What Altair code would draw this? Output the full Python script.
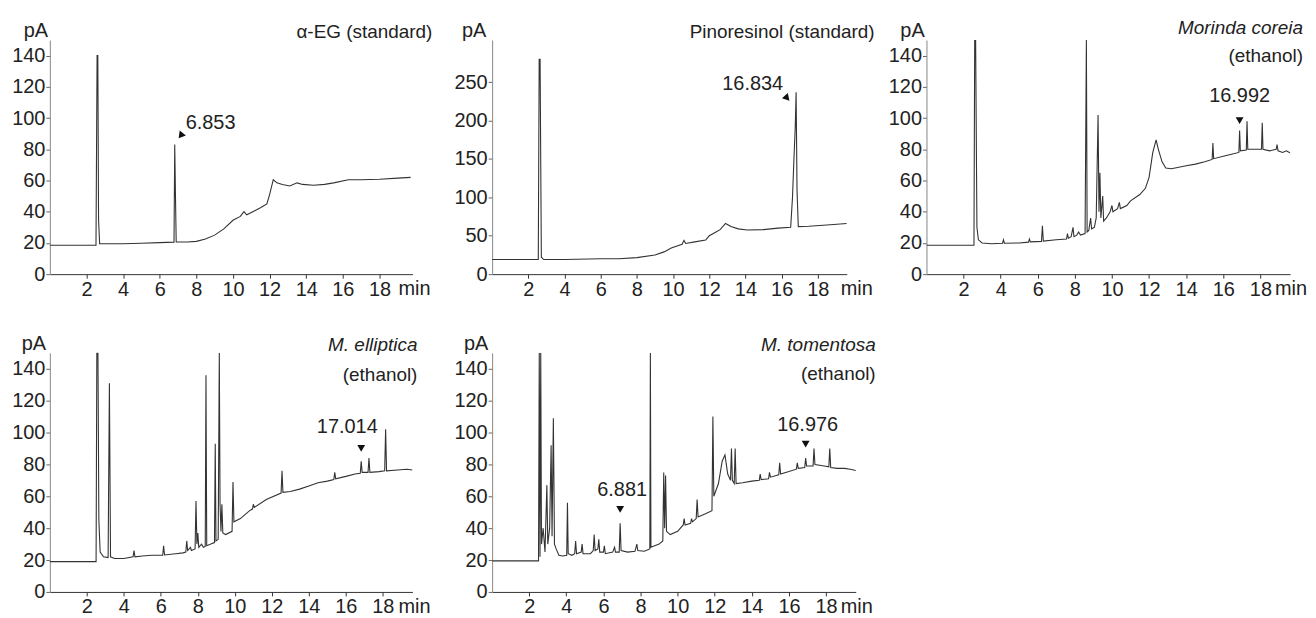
import altair as alt
import pandas as pd

FONT = "Liberation Sans"

# ---------------- data ----------------
aeg_title = ["α-EG (standard)"]
aeg_time = [0, 2.52, 2.58, 2.62, 2.66, 2.72, 3.0, 4.0, 5.0, 6.0, 6.78, 6.82, 6.86, 6.9, 7.5, 8.0,
            8.5, 9.0, 9.5, 10.0, 10.4, 10.6, 10.75, 11.0, 11.5, 11.85, 12.0, 12.2, 12.4, 12.7, 13.1,
            13.5, 13.8, 14.4, 15.0, 15.5, 16.3, 17.0, 18.0, 19.0, 19.7]
aeg_signal = [18.5, 18.5, 140, 140, 35, 19.5, 19.5, 19.5, 19.8, 20.2, 20.5, 83, 50, 20.6, 20.6, 21,
              22.5, 25, 29, 34.5, 37, 40, 38, 39.5, 42.5, 45, 51, 60.5, 58.5, 57.5, 56.5,
              58.5, 57.5, 57, 57.5, 58.5, 60.5, 60.5, 60.8, 61.5, 62]
aeg_peak_time = [6.82]
aeg_peak_signal = [83]
aeg_peak_label = ["6.853"]

pino_title = ["Pinoresinol (standard)"]
pino_time = [0, 2.55, 2.6, 2.65, 2.72, 2.85, 4.0, 6.0, 7.0, 8.0, 9.0, 9.5, 9.9, 10.5, 10.6, 10.7,
             11.2, 11.8, 12.0, 12.3, 12.6, 12.9, 13.2, 13.6, 14.1, 15.0, 15.8, 16.5, 16.6, 16.68,
             16.75, 16.8, 16.85, 16.92, 17.5, 18.5, 19.6]
pino_signal = [19, 19, 280, 280, 22, 19, 19, 20, 20, 21.5, 25, 29, 34, 39, 44, 40,
               42, 44.5, 50, 54, 58, 66, 62, 59, 57.5, 58, 60, 61, 100, 150,
               190, 237, 110, 62, 62.5, 64, 66]
pino_peak_time = [16.8]
pino_peak_signal = [237]
pino_peak_label = ["16.834"]

cor_title = ["Morinda coreia", "(ethanol)"]
cor_time = [0, 2.56, 2.6, 2.65, 2.72, 2.8, 3.0, 3.5, 4.1, 4.15, 4.2, 5.0, 5.5, 5.55, 5.6, 6.2,
            6.25, 6.3, 7.0, 7.55, 7.6, 7.65, 7.8, 7.9, 7.95, 8.1, 8.2, 8.3, 8.55, 8.62, 8.66,
            8.75, 8.85, 8.9, 9.05, 9.15, 9.25, 9.3, 9.35, 9.4, 9.5, 9.55, 9.7, 9.9, 10.0, 10.05,
            10.3, 10.4, 10.45, 10.8, 11.0, 11.5, 11.8, 12.0, 12.2, 12.38, 12.5, 12.7, 12.9, 13.2,
            13.6, 14.0, 14.5, 15.0, 15.4, 15.44, 15.48, 16.0, 16.5, 16.84, 16.88, 16.92, 17.24,
            17.28, 17.32, 17.7, 18.06, 18.1, 18.14, 18.5, 18.85, 18.9, 18.95, 19.2, 19.4, 19.7]
cor_signal = [18.5, 18.5, 150, 150, 30, 22, 20, 19.5, 19.8, 22, 19.8, 20, 20.5, 22.5, 20.7, 21,
              31, 21.2, 22, 22.5, 26, 23, 24, 30, 24, 25, 27, 25, 26, 150, 27,
              28, 36, 29, 30, 36, 102, 40, 65, 36, 50, 34, 36, 40, 44, 40,
              42, 46, 42, 44, 47, 51, 55, 62, 78, 86, 80, 72, 68, 67.5,
              68.5, 69.5, 70.5, 72, 73.5, 84, 74, 75.5, 77, 78, 92, 79, 79.5,
              98, 80, 80, 80, 97, 80, 79, 80, 83, 79, 78, 79, 77]
cor_peak_time = [16.88]
cor_peak_signal = [92]
cor_peak_label = ["16.992"]

ell_title = ["M. elliptica", "(ethanol)"]
ell_time = [0, 2.5, 2.54, 2.6, 2.65, 2.72, 2.9, 3.15, 3.22, 3.28, 3.5, 4.0, 4.5, 4.55, 4.6, 5.0,
            5.5, 6.1, 6.15, 6.2, 6.8, 7.2, 7.35, 7.4, 7.45, 7.6, 7.65, 7.85, 7.9, 7.95, 8.0,
            8.05, 8.2, 8.3, 8.4, 8.44, 8.48, 8.7, 8.9, 8.94, 8.98, 9.1, 9.16, 9.2, 9.25, 9.3,
            9.35, 9.5, 9.85, 9.9, 9.95, 10.3, 10.8, 10.95, 11.0, 11.05, 11.7, 12.5, 12.55, 12.6,
            13.0, 13.5, 14.0, 14.5, 15.0, 15.35, 15.4, 15.45, 16.0, 16.5, 16.78, 16.83, 16.88,
            17.2, 17.25, 17.3, 17.8, 18.1, 18.15, 18.2, 18.8, 19.3, 19.6]
ell_signal = [19, 19, 150, 150, 45, 25, 22, 21.5, 131, 22, 21, 21, 22, 26, 22, 22.5,
              23, 23, 29, 23.2, 24, 24.5, 25, 32, 26, 28, 26, 27, 57, 30, 37,
              28, 30, 28, 28.5, 136, 29, 30, 31, 93, 32, 33, 150, 55, 38, 55,
              37, 36, 38, 69, 44, 46, 51, 52, 55, 53, 58, 62, 76, 62.5,
              63, 64.5, 66.5, 68.5, 69.5, 70.5, 75, 71, 72.5, 74, 74.5, 82, 75,
              75, 84, 75, 75.5, 76, 102, 76, 76.5, 77, 76.5]
ell_peak_time = [16.83]
ell_peak_signal = [82]
ell_peak_label = ["17.014"]

tom_title = ["M. tomentosa", "(ethanol)"]
tom_time = [0, 2.5, 2.54, 2.58, 2.62, 2.66, 2.75, 2.85, 2.95, 3.0, 3.1, 3.18, 3.23, 3.3, 3.36,
            3.45, 3.6, 3.8, 4.02, 4.06, 4.1, 4.3, 4.45, 4.5, 4.55, 4.8, 4.85, 4.9, 5.3, 5.45,
            5.5, 5.55, 5.7, 5.75, 5.8, 6.0, 6.05, 6.1, 6.5, 6.6, 6.65, 6.85, 6.9, 6.95, 7.3,
            7.7, 7.8, 7.85, 8.2, 8.5, 8.53, 8.56, 9.0, 9.2, 9.25, 9.3, 9.35, 9.4, 9.6, 10.0,
            10.3, 10.35, 10.4, 10.7, 10.75, 10.8, 11.0, 11.05, 11.1, 11.5, 11.85, 11.9, 11.95,
            12.2, 12.4, 12.55, 12.7, 12.85, 12.9, 12.95, 13.05, 13.1, 13.15, 13.5, 14.0, 14.4,
            14.45, 14.5, 14.9, 14.95, 15.0, 15.45, 15.5, 15.55, 16.0, 16.4, 16.45, 16.5, 16.85,
            16.9, 16.95, 17.3, 17.35, 17.4, 17.9, 18.15, 18.2, 18.25, 18.6, 19.0, 19.3, 19.7]
tom_signal = [19.5, 19.5, 150, 22, 150, 30, 40, 25, 67, 30, 40, 92, 35, 109, 30,
              27, 23, 22.5, 23, 56, 24, 23, 24, 32, 24, 25, 30, 24, 24, 26,
              36, 26, 27, 33, 25, 25, 29, 24, 25, 28, 25, 25, 43, 26, 25,
              25.5, 30, 26, 25.5, 27, 150, 28, 30, 32, 75, 40, 73, 38, 36, 38,
              42, 46, 42, 43, 46, 44, 46, 58, 47, 49, 51, 110, 60,
              68, 82, 86, 74, 70, 90, 70, 68, 90, 68, 68.5, 69.5, 70,
              74, 70.5, 71, 75, 72, 73.5, 81, 74, 75.5, 77, 81, 77.5, 78,
              84, 79, 79, 90, 80, 79, 78.5, 90, 78, 77.5, 77.5, 77, 76]
tom_peak_time = [6.9, 16.9]
tom_peak_signal = [43, 84]
tom_peak_label = ["6.881", "16.976"]

x_ticks = [2, 4, 6, 8, 10, 12, 14, 16, 18]
y_ticks_small = [0, 20, 40, 60, 80, 100, 120, 140]
y_ticks_large = [0, 50, 100, 150, 200, 250]
x_unit = "min"
y_unit = "pA"


# ---------------- chart building ----------------
def panel(times, signal, pk_t, pk_v, pk_lab, titles, italic, W, H, xmax, ymax, yvals,
          title_x, title_ys, pa_x, tri_off, txt_off, txt_align, tri_shape, tri_angle):
    df = pd.DataFrame({"time": times, "signal": signal})
    pk = pd.DataFrame({"time": pk_t, "signal": pk_v, "label": pk_lab})
    X = alt.X("time:Q",
              scale=alt.Scale(domain=[0, xmax], nice=False, zero=False),
              axis=alt.Axis(values=x_ticks, title=None, grid=False, tickSize=4,
                            labelPadding=1, domainColor="#333", tickColor="#333",
                            labelFont=FONT, labelFontSize=20, labelColor="#222",
                            labelFlush=False, labelOverlap=False))
    Y = alt.Y("signal:Q",
              scale=alt.Scale(domain=[0, ymax], nice=False, zero=True),
              axis=alt.Axis(values=yvals, title=None, grid=False, tickSize=4,
                            labelPadding=1, domainColor="#888", tickColor="#666",
                            labelFont=FONT, labelFontSize=20, labelColor="#222",
                            labelFlush=False, labelOverlap=False))
    line = alt.Chart(df).mark_line(color="#333", strokeWidth=1.1, clip=True).encode(x=X, y=Y)
    tri = alt.Chart(pk).mark_point(shape=tri_shape, filled=True, color="#111", opacity=1,
                                   size=62, angle=tri_angle, xOffset=tri_off[0],
                                   yOffset=tri_off[1]).encode(x=X, y=Y)
    txt = alt.Chart(pk).mark_text(font=FONT, fontSize=20, color="#222", align=txt_align,
                                  baseline="middle", dx=txt_off[0],
                                  dy=txt_off[1]).encode(x=X, y=Y, text="label:N")
    layers = [line, tri, txt]
    for lab, ty in zip(titles, title_ys):
        layers.append(
            alt.Chart(pd.DataFrame({"label": [lab]})).mark_text(
                font=FONT, fontSize=19, color="#222", align="right", baseline="middle",
                fontStyle="italic" if (italic and lab != "(ethanol)") else "normal"
            ).encode(x=alt.value(title_x), y=alt.value(ty), text="label:N"))
    layers.append(
        alt.Chart(pd.DataFrame({"label": [y_unit]})).mark_text(
            font=FONT, fontSize=20, color="#222", align="center", baseline="middle"
        ).encode(x=alt.value(pa_x), y=alt.value(-9), text="label:N"))
    layers.append(
        alt.Chart(pd.DataFrame({"label": [x_unit]})).mark_text(
            font=FONT, fontSize=20, color="#222", align="center", baseline="middle"
        ).encode(x=alt.value(366), y=alt.value(H + 15), text="label:N"))
    return alt.layer(*layers).properties(width=W, height=H)


H1 = 235
H2 = 240
p1 = panel(aeg_time, aeg_signal, aeg_peak_time, aeg_peak_signal, aeg_peak_label, aeg_title, False,
           364, H1, 19.8, 150, y_ticks_small, 384, [-8], -14, (6, -9), (11, -22), "left",
           "triangle-down", 38)
p2 = panel(pino_time, pino_signal, pino_peak_time, pino_peak_signal, pino_peak_label, pino_title,
           False, 356, H1, 19.6, 305, y_ticks_large, 384, [-8], -18, (-9, 6), (-13, -8), "right",
           "triangle-down", 318)
p3 = panel(cor_time, cor_signal, cor_peak_time, cor_peak_signal, cor_peak_label, cor_title, True,
           365, H1, 19.6, 150, y_ticks_small, 378, [-12, 16], -14, (0, -10), (0, -35), "center",
           "triangle-down", 0)
p4 = panel(ell_time, ell_signal, ell_peak_time, ell_peak_signal, ell_peak_label, ell_title, True,
           364, H2, 19.6, 150, y_ticks_small, 369, [-8, 22], -16, (0, -13), (-14, -34), "center",
           "triangle-down", 0)
p5 = panel(tom_time, tom_signal, tom_peak_time, tom_peak_signal, tom_peak_label, tom_title, True,
           365, H2, 19.6, 150, y_ticks_small, 385, [-8, 21], -16, (0, -14), (2, -33), "center",
           "triangle-down", 0)

row1 = alt.hconcat(p1, p2, p3, spacing=80, bounds="flush")
row2 = alt.hconcat(p4, p5, spacing=80, bounds="flush")

chart = alt.vconcat(row1, row2, spacing=H1 + 79, bounds="flush").properties(
    padding={"left": 3, "top": 10, "right": 0, "bottom": 0},
    background="white"
).configure_view(stroke=None)

chart.save("out.html", embed_options={"renderer": "svg", "actions": False})
